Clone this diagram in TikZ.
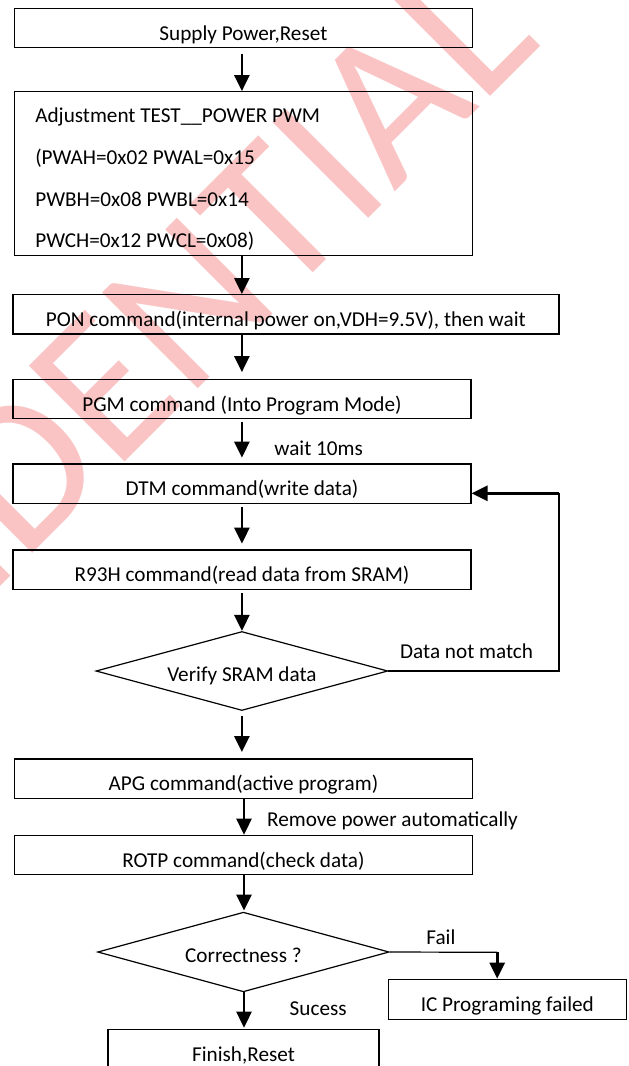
\documentclass[tikz,border=0pt]{standalone}
\usepackage{fontspec}
\setmainfont{Carlito}
\usetikzlibrary{arrows.meta,shapes.geometric}
\definecolor{markpink}{RGB}{250,196,196}
\begin{document}
\begin{tikzpicture}[x=1pt,y=-1pt,
  txt/.style={inner sep=0pt,font=\fontsize{21.2}{24}\selectfont},
  stepbox/.style={txt,draw=black,line width=1.2pt,minimum height=39.4pt,text height=24pt,text depth=0pt},
  decision/.style={txt,draw=black,line width=1.2pt,diamond,aspect=3.5,text height=20pt,text depth=0pt},
  flow/.style={line width=2.6pt,-{Triangle[length=16pt,width=15pt]}},
  wire/.style={line width=1.2pt},
  lbl/.style={txt,anchor=base west}]

% page area
\useasboundingbox (0,0) rectangle (629,1066);
\clip (0,0) rectangle (629,1066);
\fill[white] (0,0) rectangle (629,1066);

% watermark
\node[rotate=45,anchor=base east,inner sep=0pt,text=markpink,
      font=\fontsize{211}{211}\selectfont] (wm) at (543.2,43.4) {CONFIDENTIAL};

% process steps
\node[stepbox,minimum width=458.5pt] (b1) at (243.4,28) {Supply Power,Reset};
\node[draw=black,line width=1.2pt,inner sep=0pt,minimum width=458.5pt,minimum height=164pt] (adj) at (243.4,173.7) {};
\node[lbl] (adjl1) at (35.1,122.5) {Adjustment TEST\_\_POWER PWM};
\node[lbl] (adjl2) at (35.1,164.3) {(PWAH=0x02 PWAL=0x15};
\node[lbl] (adjl3) at (35.1,206) {PWBH=0x08 PWBL=0x14};
\node[lbl] (adjl4) at (35.1,247.8) {PWCH=0x12 PWCL=0x08)};
\node[stepbox,minimum width=546pt] (pon) at (285.9,314.35) {PON command(internal power on,VDH=9.5V), then wait};
\node[stepbox,minimum width=458.1pt] (pgm) at (241.95,399) {PGM command (Into Program Mode)};
\node[stepbox,minimum width=458.1pt] (dtm) at (241.95,483.65) {DTM command(write data)};
\node[stepbox,minimum width=458.1pt] (r93) at (241.95,569.65) {R93H command(read data from SRAM)};
\node[decision,minimum width=291.9pt,minimum height=79pt] (v1) at (241.9,671) {Verify SRAM data};
\node[stepbox,minimum width=458.5pt] (apg) at (243.4,778.65) {APG command(active program)};
\node[stepbox,minimum width=458.5pt] (rotp) at (243.4,855) {ROTP command(check data)};
\node[decision,minimum width=291.5pt,minimum height=79.7pt] (v2) at (243.4,952) {Correctness ?};
\node[stepbox,minimum width=237.9pt,minimum height=40pt] (ic) at (507.3,999.3) {IC Programing failed};
\node[stepbox,minimum width=270.9pt] (fin) at (243.5,1049) {Finish,Reset};

% edge labels
\node[lbl] (lwait) at (274.2,455) {wait 10ms};
\node[lbl] (lmis) at (400,658.3) {Data not match};
\node[lbl] (lrem) at (266.9,826.7) {Remove power automatically};
\node[lbl] (lfail) at (426.2,944) {Fail};
\node[lbl] (lok) at (289.5,1015.7) {Sucess};

% main column
\coordinate (cA) at (241.9,0);
\coordinate (cB) at (244,0);
\draw[flow,shorten <=5.3pt] (b1.south -| cA) -- (adj.north -| cA);
\draw[flow] (adj.south -| cA) -- (pon.north -| cA);
\draw[flow,shorten >=6.6pt] (pon.south -| cA) -- (pgm.north -| cA);
\draw[flow,shorten <=3pt,shorten >=5.7pt] (pgm.south -| cA) -- (dtm.north -| cA);
\draw[flow,shorten <=3.4pt,shorten >=5.7pt] (dtm.south -| cA) -- (r93.north -| cA);
\draw[flow,shorten <=3.4pt] (r93.south -| cA) -- (v1.north);
\draw[flow,shorten <=5.3pt,shorten >=6.3pt] (v1.south) -- (apg.north -| cA);
\draw[flow] (apg.south -| cB) -- (rotp.north -| cB);
\draw[flow,shorten >=1pt] (rotp.south -| cB) -- (v2.north -| cB);
\draw[flow,shorten >=1pt] (v2.south -| cB) -- (fin.north -| cB);

% retry loop
\coordinate (lp1) at (558.9,671);
\coordinate (lp2) at (558.9,493.3);
\draw[wire] (v1.east) -- (lp1) -- (lp2);
\draw[flow] (lp2) -- (dtm.east |- lp2);

% failure branch
\coordinate (fk) at (497.2,952.3);
\draw[wire] (v2.east) -- (fk);
\draw[flow] (fk) -- (ic.north -| fk);
\end{tikzpicture}
\end{document}
